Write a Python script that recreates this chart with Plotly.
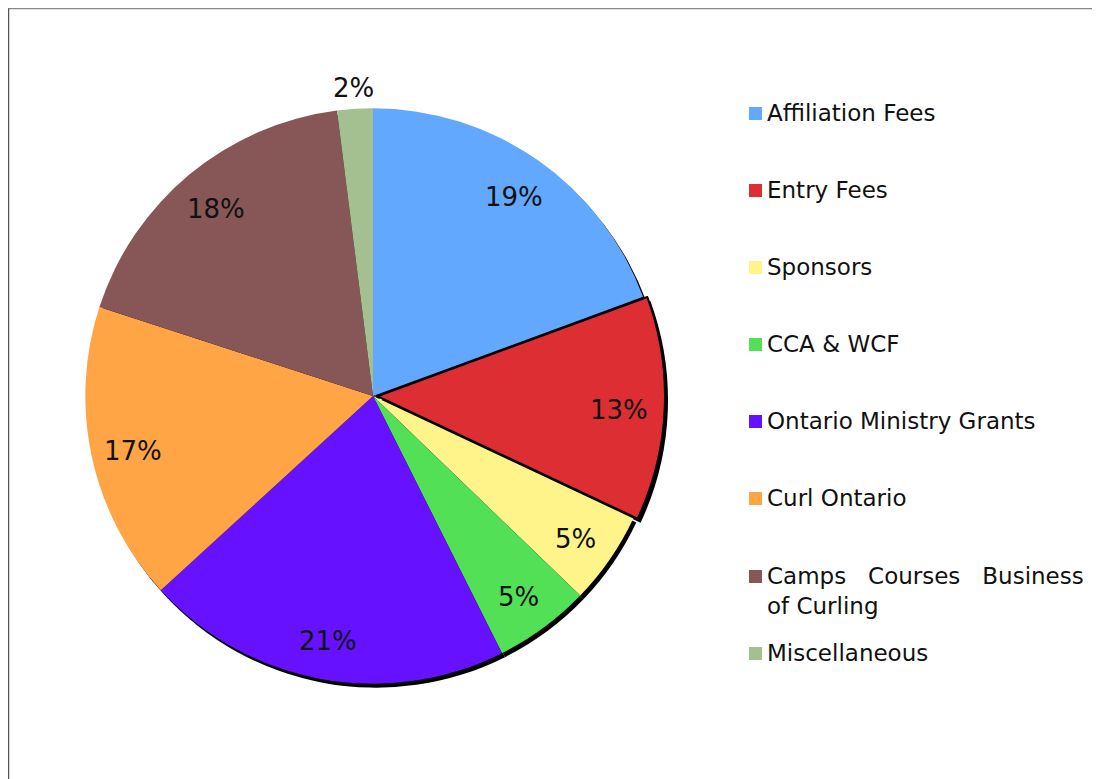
import math
import plotly.graph_objects as go

labels = ["Affiliation Fees", "Entry Fees", "Sponsors", "CCA & WCF",
          "Ontario Ministry Grants", "Curl Ontario",
          "Camps Courses Business of Curling", "Miscellaneous"]
legend_text = ["Affiliation Fees", "Entry Fees", "Sponsors", "CCA &amp; WCF",
               "Ontario Ministry Grants", "Curl Ontario",
               "Camps&nbsp;&nbsp;&nbsp;Courses&nbsp;&nbsp;&nbsp;Business<br>of Curling",
               "Miscellaneous"]
values = [19.4, 12.6, 5.2, 5.4, 20.6, 16.8, 18.0, 2.0]
colors = ["#63A8FF", "#DD2E33", "#FFF48A", "#52E057",
          "#6611FF", "#FFA545", "#875757", "#A4C090"]

W, H = 1100, 779
OFF = 8  # page offset of the plot div
cx, cy, r = 373 - OFF, 396 - OFF, 292

def dom(cx, cy, r):
    return dict(x=[(cx - r) / W, (cx + r) / W], y=[(H - (cy + r)) / H, (H - (cy - r)) / H])

def px(x):
    return x / W

def py(y):
    return 1 - y / H

font = "DejaVu Sans, Verdana, sans-serif"
pull = [0, 0.015, 0, 0, 0, 0, 0, 0]

fig = go.Figure()
# shadow
fig.add_trace(go.Pie(
    values=values, labels=labels, sort=False, direction="clockwise", rotation=0,
    marker=dict(colors=["#000000"] * len(values), line=dict(width=0)),
    textinfo="none", hoverinfo="skip", showlegend=False,
    domain=dom(cx + 3, cy + 4, r), pull=pull,
))
fig.add_trace(go.Pie(
    values=values, labels=labels, sort=False, direction="clockwise", rotation=0,
    marker=dict(colors=colors,
                line=dict(color="#000000", width=[0, 2, 0, 0, 0, 0, 0, 0])),
    textinfo="none", showlegend=False,
    domain=dom(cx, cy, r), pull=pull,
))

annotations = []
total = sum(values)
cum = 0.0
for i, v in enumerate(values):
    mid = (cum + v / 2) / total * 2 * math.pi
    cum += v
    pct = round(v / total * 100)
    d = 246 if v / total > 0.03 else 312
    x = cx + d * math.sin(mid)
    y = cy - d * math.cos(mid) + 3
    annotations.append(dict(xref="paper", yref="paper", x=px(x), y=py(y),
                            xanchor="center", yanchor="middle", showarrow=False,
                            text=f"{pct}%",
                            font=dict(family=font, size=26, color="#111111")))

shapes = [
    dict(type="line", xref="paper", yref="paper", x0=0, x1=1, y0=py(0.5), y1=py(0.5),
         line=dict(color="#888888", width=1.5)),
    dict(type="line", xref="paper", yref="paper", x0=px(0.5), x1=px(0.5), y0=0, y1=py(0.5),
         line=dict(color="#555555", width=1.5)),
]
ys = [113, 190, 267, 344, 421, 498, 576, 653]
for lab, col, y in zip(legend_text, colors, ys):
    y = y - OFF
    shapes.append(dict(type="rect", xref="paper", yref="paper",
                       x0=px(749 - OFF), x1=px(762 - OFF), y0=py(y + 7), y1=py(y - 6),
                       fillcolor=col, line=dict(width=0)))
    annotations.append(dict(xref="paper", yref="paper", x=px(765 - OFF), y=py(y - 15),
                            xanchor="left", yanchor="top", align="left",
                            text=lab, showarrow=False,
                            font=dict(family=font, size=23, color="#111111")))

fig.update_layout(
    width=W, height=H,
    margin=dict(l=0, r=0, t=0, b=0),
    paper_bgcolor="white", plot_bgcolor="white",
    shapes=shapes, annotations=annotations,
)
fig.write_html("out.html")
